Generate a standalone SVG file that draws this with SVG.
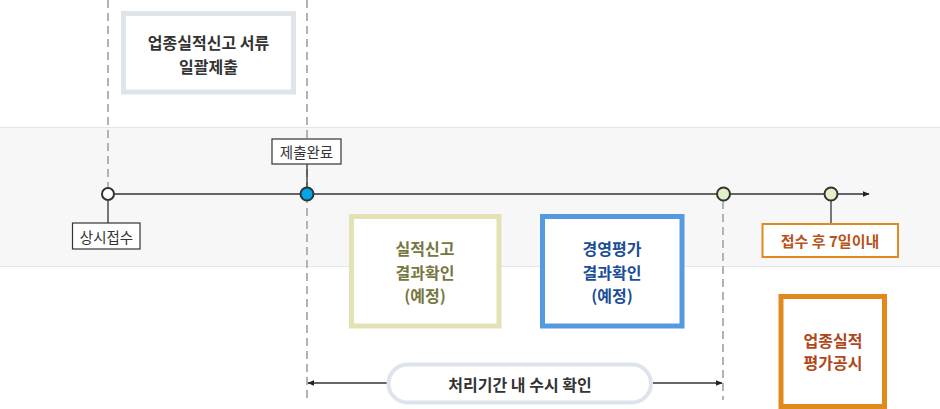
<svg xmlns="http://www.w3.org/2000/svg" width="940" height="409" viewBox="0 0 940 409">
<defs>
<style>
text{font-family:"Noto Sans CJK KR","Noto Sans",sans-serif;text-anchor:middle;dominant-baseline:central}
.t{font-size:16px;font-weight:bold}
.lbl{font-size:14.5px;fill:#333}
.dash{stroke:#b3b3b3;stroke-width:2;stroke-dasharray:8 5;fill:none}
.ln{stroke:#333;stroke-width:1.3;fill:none}
.lbox{fill:#fff;stroke:#333;stroke-width:1.2}
.circ{stroke:#333;stroke-width:2}
</style>
<marker id="ah" viewBox="0 0 10 10" refX="9" refY="5" markerWidth="7" markerHeight="7" orient="auto-start-reverse" markerUnits="userSpaceOnUse">
<path d="M0,1 L10,5 L0,9 z" fill="#222"/>
</marker>
</defs>
<rect width="940" height="409" fill="#fff"/>
<rect x="-1" y="127.5" width="942" height="139" fill="#f7f7f7" stroke="#e2e5ec" stroke-width="1"/>

<g id="connectors">
<line class="dash" x1="108" y1="0" x2="108" y2="187"/>
<line class="dash" x1="307" y1="0" x2="307" y2="400"/>
<line class="dash" x1="723" y1="201" x2="723" y2="400"/>
<line class="ln" x1="108" y1="194" x2="869" y2="194" marker-end="url(#ah)"/>
<line class="ln" x1="307" y1="164" x2="307" y2="187"/>
<line class="ln" x1="108" y1="201" x2="108" y2="223"/>
<line class="ln" x1="831" y1="201" x2="831" y2="223"/>
<line class="ln" x1="387" y1="383" x2="308" y2="383" marker-end="url(#ah)"/>
<line class="ln" x1="653" y1="383" x2="722" y2="383" marker-end="url(#ah)"/>
</g>

<g id="n-bulk">
<rect x="123.5" y="13.5" width="170" height="78.5" fill="#fff" stroke="#dfe3ea" stroke-width="5"/>
<text class="t" x="208.5" y="42" fill="#333">업종실적신고 서류</text>
<text class="t" x="208.5" y="66" fill="#333">일괄제출</text>
</g>

<g id="n-start">
<circle class="circ" cx="108" cy="194" r="6" fill="#fff"/>
</g>
<g id="n-start-label">
<rect class="lbox" x="72.5" y="223" width="67.5" height="26"/>
<text class="lbl" x="106.5" y="236">상시접수</text>
</g>

<g id="n-submit">
<circle class="circ" cx="307" cy="194" r="6.5" fill="#00a6e8"/>
</g>
<g id="n-submit-label">
<rect class="lbox" x="272" y="139" width="69" height="25"/>
<text class="lbl" x="306.5" y="151.5">제출완료</text>
</g>

<g id="n-p1"><circle class="circ" cx="723.5" cy="194" r="6.5" fill="#e2f1c6"/></g>
<g id="n-p2"><circle class="circ" cx="831" cy="194" r="6.5" fill="#e2f1c6"/></g>

<g id="n-7days">
<rect x="762.5" y="224" width="135.5" height="33" fill="#fff" stroke="#e08a1e" stroke-width="2"/>
<text class="t" x="830" y="240.5" fill="#b5531a" style="font-size:15px">접수 후 7일이내</text>
</g>

<g id="n-result1">
<rect x="351.5" y="216.5" width="147.5" height="109.5" fill="#fff" stroke="#e3e2b4" stroke-width="5"/>
<text class="t" x="425" y="248" fill="#76763f">실적신고</text>
<text class="t" x="425" y="271.5" fill="#76763f">결과확인</text>
<text class="t" x="425" y="294.5" fill="#76763f">(예정)</text>
</g>

<g id="n-result2">
<rect x="542.5" y="216.5" width="139.5" height="109.5" fill="#fff" stroke="#5599e0" stroke-width="5"/>
<text class="t" x="612" y="248" fill="#1a4e96">경영평가</text>
<text class="t" x="612" y="271.5" fill="#1a4e96">결과확인</text>
<text class="t" x="612" y="294.5" fill="#1a4e96">(예정)</text>
</g>

<g id="n-publish">
<rect x="781" y="296.5" width="103.5" height="110" fill="#fff" stroke="#e08a1e" stroke-width="5"/>
<text class="t" x="833" y="340" fill="#b0461a">업종실적</text>
<text class="t" x="833" y="362" fill="#b0461a">평가공시</text>
</g>

<g id="n-period">
<rect x="388.5" y="364.5" width="262.5" height="38" rx="19" ry="19" fill="#fff" stroke="#dfe3ec" stroke-width="4"/>
<text class="t" x="520" y="383.5" fill="#333">처리기간 내 수시 확인</text>
</g>
</svg>
